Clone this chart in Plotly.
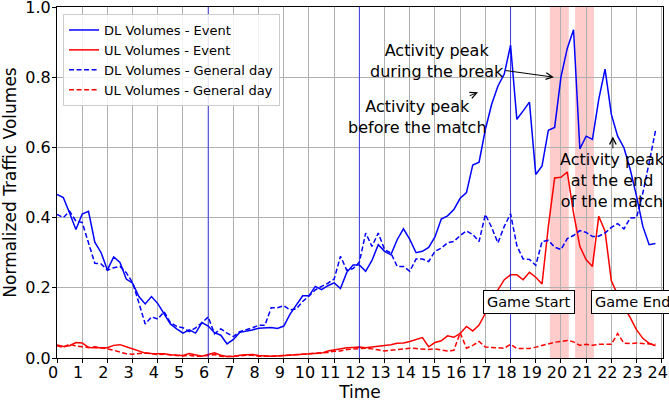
import plotly.graph_objects as go

# time in hours, 15-minute samples
time_h = [i / 4 for i in range(96)]

dl_event = [0.466, 0.457, 0.413, 0.366, 0.41, 0.418, 0.33, 0.30, 0.251, 0.288,
             0.272, 0.225, 0.213, 0.175, 0.154, 0.175, 0.155, 0.126, 0.097, 0.083,
             0.071, 0.08, 0.071, 0.101, 0.091, 0.072, 0.065, 0.04, 0.053, 0.073,
             0.076, 0.08, 0.085, 0.087, 0.087, 0.084, 0.091, 0.125, 0.15, 0.177,
             0.177, 0.204, 0.195, 0.206, 0.214, 0.198, 0.244, 0.265, 0.265, 0.247,
             0.278, 0.323, 0.304, 0.294, 0.337, 0.368, 0.338, 0.30, 0.304, 0.315,
             0.345, 0.396, 0.405, 0.423, 0.455, 0.471, 0.55, 0.558, 0.651, 0.723,
             0.775, 0.809, 0.891, 0.68, 0.704, 0.729, 0.523, 0.547, 0.649, 0.657,
             0.80, 0.882, 0.935, 0.596, 0.632, 0.623, 0.737, 0.823, 0.694, 0.632,
             0.599, 0.537, 0.461, 0.375, 0.323, 0.326]

ul_event = [0.037, 0.033, 0.035, 0.044, 0.043, 0.03, 0.029, 0.029, 0.029, 0.036,
             0.038, 0.032, 0.026, 0.018, 0.014, 0.013, 0.013, 0.012, 0.009, 0.007,
             0.007, 0.013, 0.008, 0.005, 0.01, 0.015, 0.008, 0.004, 0.004, 0.008,
             0.009, 0.01, 0.007, 0.005, 0.005, 0.006, 0.007, 0.008, 0.01, 0.011,
             0.013, 0.014, 0.014, 0.02, 0.023, 0.027, 0.029, 0.03, 0.031, 0.029,
             0.031, 0.035, 0.035, 0.038, 0.042, 0.043, 0.047, 0.052, 0.058, 0.032,
             0.044, 0.049, 0.063, 0.059, 0.07, 0.09, 0.077, 0.094, 0.128, 0.161,
             0.194, 0.223, 0.237, 0.237, 0.223, 0.244, 0.23, 0.211, 0.375, 0.513,
             0.515, 0.53, 0.413, 0.318, 0.28, 0.261, 0.404, 0.361, 0.22, 0.18,
             0.145, 0.115, 0.08, 0.056, 0.042, 0.035]

dl_general = [0.409, 0.40, 0.418, 0.39, 0.386, 0.328, 0.27, 0.268, 0.25, 0.257,
               0.261, 0.243, 0.215, 0.157, 0.097, 0.117, 0.111, 0.132, 0.101, 0.09,
               0.086, 0.075, 0.086, 0.10, 0.117, 0.069, 0.083, 0.071, 0.061, 0.075,
               0.08, 0.086, 0.093, 0.093, 0.143, 0.143, 0.149, 0.137, 0.14, 0.161,
               0.177, 0.194, 0.204, 0.213, 0.225, 0.29, 0.25, 0.255, 0.273, 0.356,
               0.318, 0.356, 0.309, 0.299, 0.261, 0.261, 0.247, 0.282, 0.282, 0.275,
               0.304, 0.313, 0.328, 0.332, 0.349, 0.362, 0.352, 0.332, 0.409, 0.372,
               0.328, 0.375, 0.411, 0.32, 0.282, 0.281, 0.264, 0.332, 0.335, 0.316,
               0.309, 0.34, 0.349, 0.363, 0.358, 0.346, 0.347, 0.356, 0.372, 0.383,
               0.368, 0.399, 0.40, 0.47, 0.556, 0.647]

ul_general = [0.035, 0.03, 0.04, 0.034, 0.032, 0.03, 0.032, 0.03, 0.026, 0.022,
               0.016, 0.012, 0.011, 0.012, 0.014, 0.012, 0.01, 0.011, 0.008, 0.007,
               0.006, 0.008, 0.005, 0.005, 0.007, 0.01, 0.005, 0.004, 0.004, 0.006,
               0.008, 0.008, 0.005, 0.004, 0.005, 0.006, 0.007, 0.008, 0.009, 0.01,
               0.012, 0.013, 0.015, 0.016, 0.019, 0.02, 0.024, 0.025, 0.028, 0.028,
               0.026, 0.022, 0.02, 0.022, 0.024, 0.025, 0.028, 0.027, 0.025, 0.024,
               0.026, 0.022, 0.02, 0.022, 0.072, 0.028, 0.036, 0.047, 0.031, 0.03,
               0.029, 0.028, 0.039, 0.027, 0.027, 0.027, 0.031, 0.036, 0.04, 0.045,
               0.047, 0.05, 0.046, 0.036, 0.039, 0.036, 0.039, 0.04, 0.039, 0.07,
               0.042, 0.041, 0.043, 0.041, 0.041, 0.039]

x_ticks = list(range(25))
x_tick_labels = [str(t) for t in x_ticks]
y_ticks = [0.0, 0.2, 0.4, 0.6, 0.8, 1.0]
marker_lines = [6, 12, 18]
break_spans = [(19.56, 20.31), (20.56, 21.31)]

FONT = "DejaVu Sans"

fig = go.Figure()
fig.add_trace(go.Scatter(x=time_h, y=dl_event, mode="lines", name="DL Volumes - Event",
                         line=dict(color="#0000ff", width=1.5)))
fig.add_trace(go.Scatter(x=time_h, y=ul_event, mode="lines", name="UL Volumes - Event",
                         line=dict(color="#ff0000", width=1.5)))
fig.add_trace(go.Scatter(x=time_h, y=dl_general, mode="lines", name="DL Volumes - General day",
                         line=dict(color="#0000ff", width=1.5, dash="5px,2.5px")))
fig.add_trace(go.Scatter(x=time_h, y=ul_general, mode="lines", name="UL Volumes - General day",
                         line=dict(color="#ff0000", width=1.5, dash="5px,2.5px")))

for x0, x1 in break_spans:
    fig.add_shape(type="rect", xref="x", yref="y", x0=x0, x1=x1, y0=0, y1=1,
                  fillcolor="rgba(255,0,0,0.2)", line=dict(width=0), layer="below")
for xv in marker_lines:
    fig.add_shape(type="line", xref="x", yref="y", x0=xv, x1=xv, y0=0, y1=1,
                  line=dict(color="rgba(0,0,255,0.85)", width=0.8), layer="above")

ann_font = dict(family=FONT, size=16, color="black")
arrow_kw = dict(showarrow=True, arrowhead=5, arrowsize=1.3, arrowwidth=1, arrowcolor="black")
fig.add_annotation(x=19.72, y=0.80, ax=15.08, ay=0.846, axref="x", ayref="y",
                   text="Activity peak<br>during the break", font=ann_font, **arrow_kw)
fig.add_annotation(x=16.71, y=0.757, ax=14.29, ay=0.686, axref="x", ayref="y",
                   text="Activity peak<br>before the match", font=ann_font, **arrow_kw)
fig.add_annotation(x=22.06, y=0.631, ax=22.06, ay=0.506, axref="x", ayref="y",
                   text="Activity peak<br>at the end<br>of the match", font=ann_font, **arrow_kw)

box_font = dict(family=FONT, size=14.5, color="black")
fig.add_annotation(x=18.73, y=0.16, text="Game Start", showarrow=False, font=box_font,
                   bgcolor="white", bordercolor="black", borderwidth=1, borderpad=3)
fig.add_annotation(x=22.82, y=0.16, text="Game End", showarrow=False, font=box_font,
                   bgcolor="white", bordercolor="black", borderwidth=1, borderpad=3)

fig.update_layout(
    width=669, height=403,
    margin=dict(l=57, r=6, t=7, b=45, autoexpand=False),
    paper_bgcolor="white", plot_bgcolor="white",
    font=dict(family=FONT, color="black"),
    showlegend=True,
    legend=dict(x=0.01, y=0.98, xanchor="left", yanchor="top", itemwidth=30,
                bgcolor="rgba(255,255,255,0.85)", bordercolor="#cccccc", borderwidth=1,
                font=dict(family=FONT, size=13, color="black"), tracegroupgap=0),
    xaxis=dict(range=[0, 24.05], tickvals=x_ticks, ticktext=x_tick_labels, tickangle=0,
               automargin=False, ticklabeloverflow="allow", ticklabelstandoff=-4,
               ticklabelshift=-4,
               showgrid=True, gridcolor="#b0b0b0", gridwidth=0.8,
               showline=True, linecolor="black", linewidth=1, mirror=True,
               ticks="outside", ticklen=4, tickcolor="black",
               tickfont=dict(family=FONT, size=16, color="black"),
               title=dict(text="Time", font=dict(family=FONT, size=17, color="black"), standoff=0),
               zeroline=False),
    yaxis=dict(range=[0, 1.0], tickvals=y_ticks, ticktext=[f"{v:.1f}" for v in y_ticks],
               automargin=False, ticklabeloverflow="allow", ticklabelstandoff=-2,
               showgrid=True, gridcolor="#b0b0b0", gridwidth=0.8,
               showline=True, linecolor="black", linewidth=1, mirror=True,
               ticks="outside", ticklen=4, tickcolor="black",
               tickfont=dict(family=FONT, size=16, color="black"),
               title=dict(text="Normalized Traffic Volumes", font=dict(family=FONT, size=17, color="black"), standoff=5),
               zeroline=False),
)

fig.write_html("out.html", config={"displayModeBar": False},
               post_script="document.body.style.margin='0';")
